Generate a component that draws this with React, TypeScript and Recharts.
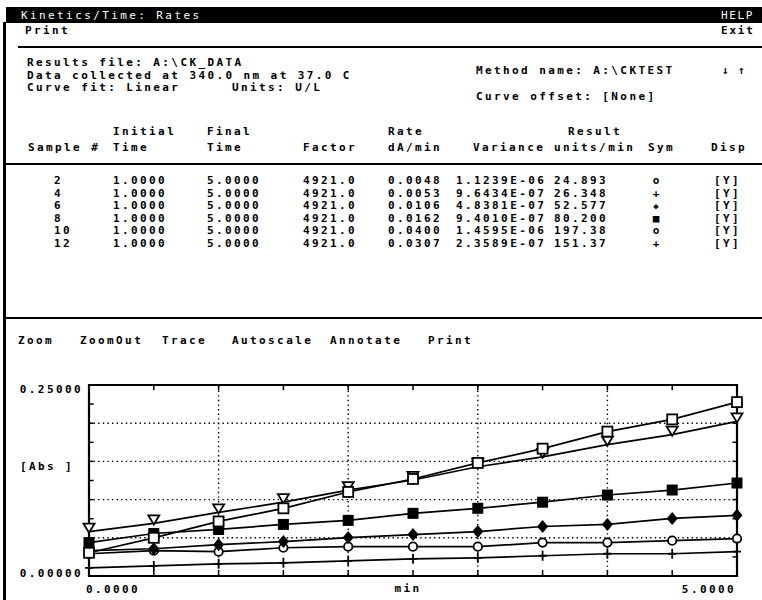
import React from "react";
import { LineChart, Line, XAxis, YAxis, ReferenceLine, ReferenceArea } from "recharts";

// ---------- data ----------
const times = [0, 0.5, 1, 1.5, 2, 2.5, 3, 3.5, 4, 4.5, 5];
const openSquareVals = [0.0304, 0.05, 0.0714, 0.0886, 0.11, 0.127, 0.148, 0.1667, 0.189, 0.205, 0.2276];
const triangleVals = [0.058, 0.0688, 0.0833, 0.0966, 0.1125, 0.1257, 0.143, 0.156, 0.172, 0.185, 0.2024];
const filledSquareVals = [0.0437, 0.0556, 0.0609, 0.0675, 0.0728, 0.082, 0.0886, 0.0966, 0.106, 0.1125, 0.1217];
const diamondVals = [0.0331, 0.0357, 0.041, 0.045, 0.0503, 0.0542, 0.0582, 0.0648, 0.0675, 0.0754, 0.0794];
const circleVals = [0.0291, 0.0331, 0.0318, 0.037, 0.0384, 0.0384, 0.0384, 0.0437, 0.0437, 0.0463, 0.049];
const plusVals = [0.0106, 0.0132, 0.0159, 0.0172, 0.0198, 0.0225, 0.0238, 0.0265, 0.0291, 0.0291, 0.0318];

const xTicks = [0, 5];
const xTickLabels = ["0.0000", "5.0000"];
const yTicks = [0, 0.25];
const yTickLabels = ["0.00000", "0.25000"];
const gridX = [1, 2, 3, 4];
const gridY = [0.05, 0.1, 0.15, 0.2];
const minorX = [0.5, 1, 1.5, 2, 2.5, 3, 3.5, 4, 4.5];
const minorY = [0.025, 0.05, 0.075, 0.1, 0.125, 0.15, 0.175, 0.2, 0.225];

// table
const samples = ["2", "4", "6", "8", "10", "12"];
const initialTimes = ["1.0000", "1.0000", "1.0000", "1.0000", "1.0000", "1.0000"];
const finalTimes = ["5.0000", "5.0000", "5.0000", "5.0000", "5.0000", "5.0000"];
const factors = ["4921.0", "4921.0", "4921.0", "4921.0", "4921.0", "4921.0"];
const rates = ["0.0048", "0.0053", "0.0106", "0.0162", "0.0400", "0.0307"];
const variances = ["1.1239E-06", "9.6434E-07", "4.8381E-07", "9.4010E-07", "1.4595E-06", "2.3589E-07"];
const results = ["24.893", "26.348", "52.577", "80.200", "197.38", "151.37"];
const syms = ["o", "+", "◆", "■", "o", "+"];
const disps = ["[Y]", "[Y]", "[Y]", "[Y]", "[Y]", "[Y]"];
const menuItems = ["Zoom", "ZoomOut", "Trace", "Autoscale", "Annotate", "Print"];

const data = times.map((t, i) => ({
  t,
  sq: openSquareVals[i],
  tri: triangleVals[i],
  fsq: filledSquareVals[i],
  dia: diamondVals[i],
  cir: circleVals[i],
  plus: plusVals[i],
}));

const FONT = '"DejaVu Sans Mono", monospace';
const FS = 11;
const LS = 2.4;

const makeDot = (kind: string) => (props: any) => {
  const { cx, cy, index } = props;
  const key = `${kind}-${index}`;
  if (cx == null || cy == null) return <g key={key} />;
  switch (kind) {
    case "sq":
      return <rect key={key} x={cx - 5} y={cy - 5} width={10} height={10} fill="#fff" stroke="#000" strokeWidth={1.8} />;
    case "tri":
      return (
        <path key={key} d={`M${cx - 5.5},${cy - 8} L${cx + 5.5},${cy - 8} L${cx},${cy + 1} Z`} fill="#fff" stroke="#000" strokeWidth={1.8} />
      );
    case "fsq":
      return <rect key={key} x={cx - 5.5} y={cy - 5.5} width={11} height={11} fill="#000" />;
    case "dia":
      return <path key={key} d={`M${cx},${cy - 6.5} L${cx + 5.5},${cy} L${cx},${cy + 6.5} L${cx - 5.5},${cy} Z`} fill="#000" />;
    case "cir":
      return <circle key={key} cx={cx} cy={cy} r={4.2} fill="#fff" stroke="#000" strokeWidth={1.8} />;
    case "plus":
      return (
        <path key={key} d={`M${cx - 4},${cy} L${cx + 4},${cy} M${cx},${cy - 5} L${cx},${cy + 5}`} stroke="#000" strokeWidth={1.8} fill="none" />
      );
    default:
      return <g key={key} />;
  }
};

const XTick = (props: any) => {
  const { x, y, payload } = props;
  const i = xTicks.indexOf(payload.value);
  const isLast = i === xTicks.length - 1;
  return (
    <text x={isLast ? x - 1 : x - 3} y={y + 9} textAnchor={isLast ? "end" : "start"} fontFamily={FONT} fontSize={FS} fontWeight={700} letterSpacing={LS} fill="#000">
      {xTickLabels[i]}
    </text>
  );
};

const YTick = (props: any) => {
  const { y, payload } = props;
  const i = yTicks.indexOf(payload.value);
  const top = payload.value === 0.25;
  return (
    <text x={83} y={top ? y + 8 : y + 1} textAnchor="end" fontFamily={FONT} fontSize={FS} fontWeight={700} letterSpacing={LS} fill="#000">
      {yTickLabels[i]}
    </text>
  );
};

const T = ({ x, y, children, fill = "#000", w = 700, size = FS, ls = LS, anchor = "start" }: any) => (
  <text x={x} y={y} fill={fill} fontFamily={FONT} fontSize={size} fontWeight={w} letterSpacing={ls} textAnchor={anchor} style={{ whiteSpace: "pre" }}>
    {children}
  </text>
);

const rowBase = [184, 196.5, 209, 221.5, 234, 246.5];
const menuX = [18, 80, 162, 232, 330, 428];

export default function App() {
  return (
    <div style={{ position: "fixed", left: 0, top: 0, width: 762, height: 600, background: "#fff", overflow: "hidden" }}>
      <div style={{ position: "absolute", left: 0, top: 0 }}>
        <LineChart width={762} height={600} data={data} margin={{ top: 385, right: 25, bottom: 0, left: 0 }}>
          <XAxis
            type="number"
            dataKey="t"
            domain={[0, 5]}
            ticks={xTicks}
            height={24}
            axisLine={false}
            tickLine={false}
            tick={<XTick />}
            interval={0}
          />
          <YAxis type="number" domain={[0, 0.25]} ticks={yTicks} width={89} axisLine={false} tickLine={false} tick={<YTick />} interval={0} />
          {gridY.map((v) => (
            <ReferenceLine key={`gy${v}`} y={v} stroke="#000" strokeWidth={1.4} strokeDasharray="1.4 3.2" />
          ))}
          {gridX.map((v) => (
            <ReferenceLine key={`gx${v}`} x={v} stroke="#000" strokeWidth={1.4} strokeDasharray="1.4 3.2" />
          ))}
          {minorY.map((v) => (
            <ReferenceLine key={`ly${v}`} segment={[{ x: 0, y: v }, { x: 0.035, y: v }]} stroke="#000" strokeWidth={1.5} />
          ))}
          {minorY.map((v) => (
            <ReferenceLine key={`ry${v}`} segment={[{ x: 4.965, y: v }, { x: 5, y: v }]} stroke="#000" strokeWidth={1.5} />
          ))}
          {minorX.map((v) => (
            <ReferenceLine key={`tx${v}`} segment={[{ x: v, y: 0.25 }, { x: v, y: 0.243 }]} stroke="#000" strokeWidth={1.5} />
          ))}
          {minorX.map((v) => (
            <ReferenceLine key={`bx${v}`} segment={[{ x: v, y: 0 }, { x: v, y: 0.008 }]} stroke="#000" strokeWidth={1.5} />
          ))}
          <Line dataKey="plus" stroke="#000" strokeWidth={1.7} dot={makeDot("plus")} isAnimationActive={false} />
          <Line dataKey="cir" stroke="#000" strokeWidth={1.7} dot={makeDot("cir")} isAnimationActive={false} />
          <Line dataKey="dia" stroke="#000" strokeWidth={1.7} dot={makeDot("dia")} isAnimationActive={false} />
          <Line dataKey="fsq" stroke="#000" strokeWidth={1.7} dot={makeDot("fsq")} isAnimationActive={false} />
          <Line dataKey="tri" stroke="#000" strokeWidth={1.7} dot={makeDot("tri")} isAnimationActive={false} />
          <Line dataKey="sq" stroke="#000" strokeWidth={1.7} dot={makeDot("sq")} isAnimationActive={false} />
          <ReferenceArea x1={0} x2={5} y1={0} y2={0.25} fill="none" stroke="#000" strokeWidth={2.2} ifOverflow="visible" />
        </LineChart>
      </div>
      <svg width={762} height={600} style={{ position: "absolute", left: 0, top: 0, pointerEvents: "none" }}>
        {/* left screen border */}
        <rect x={3} y={22} width={3} height={578} fill="#000" />
        {/* title bar */}
        <rect x={6} y={7} width={756} height={16} fill="#000" />
        <T x={21} y={19} fill="#fff" w={400}>Kinetics/Time: Rates</T>
        <T x={721} y={19} fill="#fff" w={400} ls={1.6}>HELP</T>
        <T x={25} y={34}>Print</T>
        <T x={721} y={34} ls={1.8}>Exit</T>
        <rect x={18} y={46} width={744} height={2} fill="#000" />

        <T x={27} y={66}>Results file: A:\CK_DATA</T>
        <T x={27} y={78.5}>Data collected at 340.0 nm at 37.0 C</T>
        <T x={27} y={91}>Curve fit: Linear</T>
        <T x={232} y={91}>Units: U/L</T>
        <T x={476} y={74}>Method name: A:\CKTEST</T>
        <T x={722} y={74}>↓</T>
        <T x={738} y={74}>↑</T>
        <T x={476} y={100}>Curve offset: [None]</T>

        {/* table header */}
        <T x={113} y={135}>Initial</T>
        <T x={207} y={135}>Final</T>
        <T x={388} y={135}>Rate</T>
        <T x={568} y={135}>Result</T>
        <T x={28} y={151}>Sample #</T>
        <T x={113} y={151}>Time</T>
        <T x={207} y={151}>Time</T>
        <T x={303} y={151}>Factor</T>
        <T x={388} y={151}>dA/min</T>
        <T x={473} y={151}>Variance</T>
        <T x={554} y={151}>units/min</T>
        <T x={648} y={151}>Sym</T>
        <T x={711} y={151}>Disp</T>
        <rect x={6} y={163} width={756} height={2} fill="#000" />

        {samples.map((s, i) => (
          <g key={`row${i}`}>
            <T x={54} y={rowBase[i]}>{s}</T>
            <T x={113} y={rowBase[i]}>{initialTimes[i]}</T>
            <T x={207} y={rowBase[i]}>{finalTimes[i]}</T>
            <T x={303} y={rowBase[i]}>{factors[i]}</T>
            <T x={388} y={rowBase[i]}>{rates[i]}</T>
            <T x={456} y={rowBase[i]}>{variances[i]}</T>
            <T x={554} y={rowBase[i]}>{results[i]}</T>
            <T x={656} y={rowBase[i]} anchor="middle" size={syms[i] === "◆" ? 9 : FS} ls={0}>{syms[i]}</T>
            <T x={714} y={rowBase[i]}>{disps[i]}</T>
          </g>
        ))}

        <rect x={6} y={317} width={756} height={2} fill="#000" />
        {menuItems.map((m, i) => (
          <T key={m} x={menuX[i]} y={344}>{m}</T>
        ))}

        <T x={20} y={470}>[Abs ]</T>
        <T x={408} y={592} anchor="middle">min</T>
      </svg>
    </div>
  );
}
